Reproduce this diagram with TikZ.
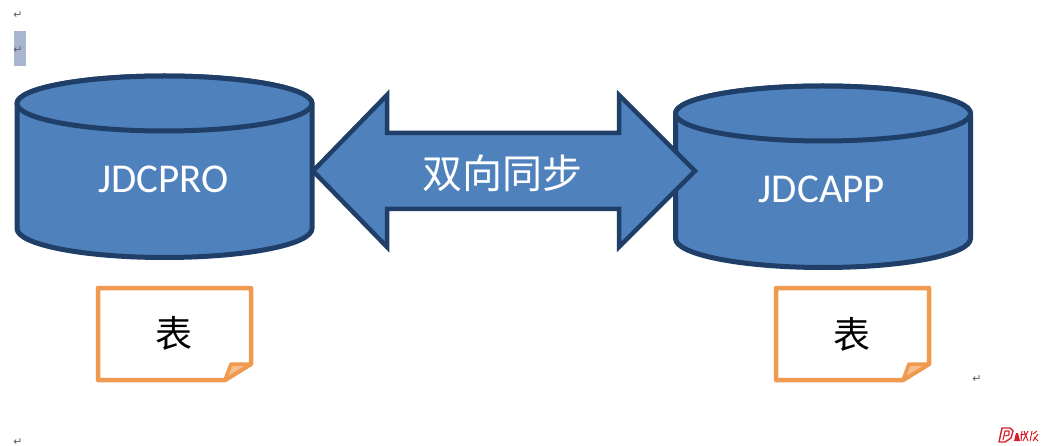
\documentclass[tikz,border=0pt]{standalone}
\usepackage{fontspec}
\setmainfont{Carlito}
\newfontfamily\cjk{Noto Sans CJK SC}
\newfontfamily\symb{DejaVu Sans}
\definecolor{fillblue}{HTML}{4F81BD}
\definecolor{edgeblue}{HTML}{1F3F68}
\definecolor{noteorange}{HTML}{F09A50}
\definecolor{foldorange}{HTML}{F5BE8C}
\definecolor{markgrey}{HTML}{606060}
\definecolor{selblue}{HTML}{A9B4D0}
\definecolor{logored}{HTML}{D9202A}
\tikzset{
  x=1pt,y=-1pt,
  shapeblue/.style={fill=fillblue,draw=edgeblue,line width=5pt,line join=round},
  notebox/.style={draw=noteorange,line width=4.5pt,line join=round,fill=white},
  notefold/.style={draw=noteorange,line width=3.5pt,line join=round,fill=foldorange},
  dbtext/.style={text=white,font=\fontsize{41}{41}\selectfont,inner sep=0pt},
  cjkwhite/.style={text=white,font=\cjk\fontsize{40}{40}\selectfont,inner sep=0pt},
  cjkblack/.style={text=black,font=\cjk\fontsize{37}{37}\selectfont,inner sep=0pt},
  pilcrow/.style={text=markgrey,font=\symb\fontsize{11}{11}\selectfont,inner sep=0pt},
}
\newcommand{\dbshape}[2]{%
  \path[shapeblue] (#1-147.5,#2) -- (#1-147.5,#2+125)
    arc[start angle=180,end angle=0,x radius=147.5,y radius=29]
    -- (#1+147.5,#2) arc[start angle=0,end angle=-180,x radius=147.5,y radius=27.5] -- cycle;
  \path[shapeblue] (#1,#2) ellipse[x radius=147.5,y radius=27.5];
}
\newcommand{\notepage}[1]{%
  \path[notebox] (#1,288) -- (#1+153,288) -- (#1+153,364) -- (#1+127,380) -- (#1,380) -- cycle;
  \path[notefold] (#1+127,380) -- (#1+133,364) -- (#1+153,364) -- cycle;
}
\begin{document}
\begin{tikzpicture}
\useasboundingbox (0,0) rectangle (1056,446);
\fill[white] (0,0) rectangle (1056,446);
% selection highlight
\fill[selblue] (14,31) rectangle (26,66);
% paragraph marks
\node[pilcrow] (m1) at (18,15.5) {↵};
\node[pilcrow] (m2) at (18,50.5) {↵};
\node[pilcrow] (m3) at (977,379) {↵};
\node[pilcrow] (m4) at (18,442) {↵};
% databases
\dbshape{164.5}{103.5}
\dbshape{823}{113.5}
% double arrow
\path[shapeblue,line width=4.5pt,line join=miter]
  (313,171) -- (387,95) -- (387,133) -- (619,133) -- (619,95) -- (695,171)
  -- (619,247) -- (619,209) -- (387,209) -- (387,247) -- cycle;
% labels
\node[dbtext] (jdcpro) at (163.5,179) {JDCPRO};
\node[dbtext] (jdcapp) at (822,189) {JDCAPP};
\node[cjkwhite] (sync) at (502.5,173) {双向同步};
% notes
\notepage{98}
\notepage{776}
\node[cjkblack] (biao1) at (174,333) {表};
\node[cjkblack] (biao2) at (852,334) {表};
% logo
\begin{scope}[logored]
  \draw[line width=1.4pt,line join=round] (999,442) -- (1002,428) -- (1010,428) -- (1013,431) -- (1011,438) -- (1005,442) -- cycle;
  \draw[line width=1.1pt,line join=round] (1003,440) -- (1005,431) -- (1009,431) -- (1009,435) -- (1005,436);
  \fill (1014,441) -- (1016,433) -- (1018,433) -- (1020,441) -- cycle;
  \draw[line width=1pt] (1022,431) -- (1021,441) (1020,435) -- (1027,434) (1024,431) -- (1028,441) (1028,431) -- (1023,441);
  \draw[line width=1pt] (1032,431) -- (1030,441) (1033,434) -- (1037,431) (1034,437) -- (1038,441) (1038,434) -- (1033,441);
\end{scope}
\end{tikzpicture}
\end{document}
